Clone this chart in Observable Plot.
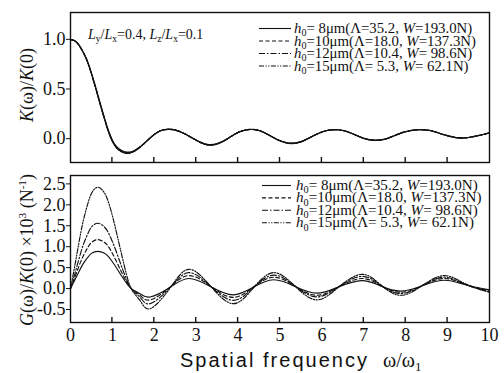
<!DOCTYPE html>
<html><head><meta charset="utf-8">
<script src="https://cdn.jsdelivr.net/npm/d3@7"></script>
<script src="https://cdn.jsdelivr.net/npm/@observablehq/plot@0.6"></script>
<style>
body{margin:0;background:#fff;}
#chart{width:504px;height:373px;position:relative;overflow:hidden;background:#fff;}
#chart svg{display:block;}
</style></head><body><div id="chart"></div>
<script>
// ---------- data ----------
const seriesNames = ["h0=8", "h0=10", "h0=12", "h0=15"];
const seriesDash = [null, "4,2.5", "6,2,1.5,2", "5,1.5,1.2,1.5,1.2,1.5"];
const legendRows = [
  [["h","i"],["0","sub"],["= 8μm(Λ=35.2, ",""],["W","i"],["=193.0N)",""]],
  [["h","i"],["0","sub"],["=10μm(Λ=18.0, ",""],["W","i"],["=137.3N)",""]],
  [["h","i"],["0","sub"],["=12μm(Λ=10.4, ",""],["W","i"],["= 98.6N)",""]],
  [["h","i"],["0","sub"],["=15μm(Λ= 5.3, ",""],["W","i"],["= 62.1N)",""]]
];
const xTicks = [0,1,2,3,4,5,6,7,8,9,10];
const innerTicks = [1,2,3,4,5,6,7,8,9];
const kTicks = [0, 0.5, 1.0];
const gTicks = [-0.5, 0, 0.5, 1.0, 1.5, 2.0, 2.5];

const kX = [0,0.1,0.2,0.3,0.4,0.5,0.6,0.7,0.8,0.9,1.0,1.1,1.2,1.3,1.4,1.5,1.6,1.7,1.8,1.9,2.0,2.1,2.2,2.35,2.5,2.7,2.9,3.1,3.3,3.5,3.7,3.9,4.1,4.3,4.5,4.7,4.9,5.1,5.3,5.5,5.7,5.9,6.1,6.3,6.5,6.7,6.9,7.1,7.3,7.5,7.7,7.9,8.1,8.35,8.6,8.8,9.0,9.2,9.35,9.5,9.7,9.85,10];
const kH8  = [1.0,0.985,0.945,0.875,0.785,0.66,0.52,0.37,0.225,0.09,-0.015,-0.08,-0.115,-0.132,-0.135,-0.125,-0.1,-0.068,-0.03,0.008,0.043,0.07,0.087,0.094,0.086,0.055,0.01,-0.035,-0.06,-0.05,-0.012,0.04,0.078,0.092,0.082,0.045,0.0,-0.033,-0.045,-0.03,0.008,0.05,0.08,0.09,0.082,0.055,0.02,-0.007,-0.015,-0.005,0.025,0.058,0.08,0.09,0.08,0.055,0.03,0.012,0.008,0.012,0.028,0.042,0.058];
const kH10 = [1.0,0.985,0.944,0.873,0.782,0.656,0.515,0.364,0.219,0.084,-0.021,-0.086,-0.121,-0.138,-0.14,-0.129,-0.103,-0.07,-0.031,0.007,0.042,0.07,0.087,0.094,0.086,0.054,0.009,-0.037,-0.062,-0.052,-0.013,0.04,0.078,0.092,0.082,0.044,-0.001,-0.035,-0.047,-0.031,0.008,0.05,0.08,0.09,0.082,0.055,0.019,-0.008,-0.016,-0.006,0.025,0.058,0.08,0.09,0.08,0.055,0.029,0.011,0.007,0.012,0.028,0.042,0.058];
const kH12 = [1.0,0.985,0.943,0.871,0.78,0.653,0.511,0.36,0.214,0.079,-0.025,-0.09,-0.125,-0.142,-0.143,-0.131,-0.105,-0.071,-0.032,0.007,0.042,0.07,0.087,0.095,0.087,0.054,0.008,-0.038,-0.064,-0.053,-0.013,0.04,0.079,0.093,0.082,0.044,-0.002,-0.036,-0.048,-0.032,0.008,0.05,0.08,0.09,0.082,0.055,0.019,-0.009,-0.017,-0.006,0.025,0.058,0.08,0.091,0.08,0.055,0.029,0.011,0.007,0.012,0.028,0.042,0.058];
const kH15 = [1.0,0.985,0.942,0.869,0.777,0.649,0.506,0.355,0.209,0.074,-0.03,-0.095,-0.13,-0.147,-0.147,-0.134,-0.107,-0.072,-0.033,0.006,0.042,0.07,0.088,0.096,0.088,0.054,0.007,-0.04,-0.066,-0.055,-0.014,0.04,0.079,0.094,0.083,0.044,-0.003,-0.038,-0.05,-0.033,0.007,0.05,0.08,0.091,0.083,0.055,0.018,-0.01,-0.018,-0.007,0.025,0.058,0.08,0.091,0.081,0.055,0.028,0.01,0.006,0.011,0.028,0.042,0.058];

const gX = [0,0.1,0.2,0.3,0.4,0.5,0.65,0.8,0.9,1.0,1.1,1.2,1.3,1.45,1.67,1.9,2.36,2.82,3.35,3.88,4.36,4.85,5.36,5.88,6.4,6.95,7.4,7.88,8.4,8.93,9.45,10];
const gH8  = [0,0.2,0.4,0.59,0.73,0.84,0.89,0.85,0.77,0.64,0.49,0.33,0.18,0,-0.13,-0.2,0.02,0.24,0.045,-0.15,0.03,0.21,0.05,-0.11,0.04,0.19,0.065,-0.06,0.07,0.2,0.085,-0.03];
const gH10 = [0,0.26,0.53,0.77,0.96,1.1,1.17,1.11,1.01,0.84,0.64,0.43,0.23,0,-0.17,-0.27,0.02,0.31,0.05,-0.21,0.03,0.27,0.055,-0.16,0.04,0.24,0.075,-0.09,0.075,0.24,0.09,-0.05];
const gH12 = [0,0.34,0.70,1.03,1.28,1.47,1.56,1.48,1.34,1.12,0.86,0.58,0.31,0,-0.22,-0.36,0.01,0.38,0.05,-0.28,0.02,0.32,0.06,-0.2,0.045,0.29,0.085,-0.12,0.075,0.27,0.09,-0.07];
const gH15 = [0,0.53,1.09,1.6,1.98,2.27,2.42,2.3,2.08,1.74,1.33,0.9,0.48,0,-0.3,-0.48,-0.01,0.46,0.05,-0.36,0.01,0.38,0.055,-0.27,0.035,0.34,0.09,-0.16,0.075,0.31,0.1,-0.09];

// ---------- build tables ----------
const kSeries = [kH8, kH10, kH12, kH15];
const gSeries = [gH8, gH10, gH12, gH15];
const kData = kSeries.flatMap((arr, i) => arr.map((v, j) => ({x: kX[j], y: v, s: i})));
const gData = gSeries.flatMap((arr, i) => arr.map((v, j) => ({x: gX[j], y: v, s: i})));

const SERIF = "'Liberation Serif', 'Times New Roman', serif";
const SANS = "'Liberation Sans', Arial, sans-serif";
const INK = "#111";
const fmt = d => d.toFixed(1);

function lines(data) {
  return seriesNames.map((n, i) => Plot.line(data.filter(d => d.s === i), {
    x: "x", y: "y", stroke: INK, strokeWidth: 1.15,
    strokeDasharray: seriesDash[i], curve: "natural"
  }));
}

const W = 504;
const topH = 170, botH = 203;
const topMargins = {marginLeft: 70, marginRight: 15, marginTop: 12, marginBottom: 8};
const botMargins = {marginLeft: 70, marginRight: 15, marginTop: 5, marginBottom: 51};
const kDomain = [-0.24, 1.27];
const gDomain = [-0.81, 2.70];

const topPlot = Plot.plot({
  width: W, height: topH, ...topMargins,
  style: {fontFamily: SERIF, fontSize: "18px", background: "transparent", color: INK, overflow: "visible"},
  x: {domain: [0, 10], axis: null},
  y: {domain: kDomain},
  marks: [
    Plot.axisY({ticks: kTicks, tickSize: 4, tickPadding: 1, tickFormat: fmt, label: null, fontSize: 18}),
    ...lines(kData),
    Plot.frame({stroke: INK, strokeWidth: 1.4})
  ]
});

const botPlot = Plot.plot({
  width: W, height: botH, ...botMargins,
  style: {fontFamily: SERIF, fontSize: "18px", background: "transparent", color: INK, overflow: "visible"},
  x: {domain: [0, 10]},
  y: {domain: gDomain},
  marks: [
    Plot.axisY({ticks: gTicks, tickSize: 4, tickPadding: 1, tickFormat: fmt, label: null, fontSize: 18}),
    Plot.axisX({ticks: xTicks, tickSize: 0, tickPadding: 6, tickFormat: d => String(d), label: null, fontSize: 18}),
    ...lines(gData),
    Plot.frame({stroke: INK, strokeWidth: 1.4})
  ]
});

const chart = document.getElementById("chart");
chart.appendChild(topPlot);
chart.appendChild(botPlot);

// inward x ticks, positioned through each plot's own x scale
function innerTickMarks(plot, bottomY) {
  const sx = plot.scale("x");
  const g = d3.select(plot).append("g").attr("stroke", INK).attr("stroke-width", 1.4);
  innerTicks.forEach(v => {
    const px = sx.apply(v);
    g.append("line").attr("x1", px).attr("x2", px).attr("y1", bottomY).attr("y2", bottomY - 5);
  });
}
innerTickMarks(topPlot, topH - topMargins.marginBottom);
innerTickMarks(botPlot, botH - botMargins.marginBottom);

// ---------- rich text helpers ----------
function fixParts(parts) {
  const out = [];
  for (let i = 0; i < parts.length; i++) {
    const p = parts[i];
    out.push(p);
    if (p[1] === "sub" && parts[i + 1]) { const n = parts[++i]; out.push([n[0], n[1] === "i" ? "i-after" : "after"]); }
    if (p[1] === "sup" && parts[i + 1]) { const n = parts[++i]; out.push([n[0], "aftersup"]); }
  }
  return out;
}
function drawRich(g, x, y, parts, size, opts = {}) {
  const t = g.append("text").attr("x", x).attr("y", y)
    .attr("font-family", opts.family || SERIF).attr("font-size", size)
    .attr("fill", INK).attr("text-anchor", opts.anchor || "start").style("white-space", "pre");
  if (opts.transform) t.attr("transform", opts.transform);
  fixParts(parts).forEach(([txt, kind]) => {
    const ts = t.append("tspan").text(txt);
    if (kind === "i" || kind === "i-after") ts.attr("font-style", "italic");
    if (kind === "sub") ts.attr("font-size", size * 0.68).attr("dy", size * 0.22);
    if (kind === "sup") ts.attr("font-size", size * 0.62).attr("dy", -size * 0.38);
    if (kind === "after" || kind === "i-after") ts.attr("dy", -size * 0.22);
    if (kind === "aftersup") ts.attr("dy", size * 0.38);
  });
  return t;
}

function legend(svg, y0, step, size, tx, lx1) {
  const g = d3.select(svg).append("g");
  legendRows.forEach((row, i) => {
    const y = y0 + i * step;
    g.append("line").attr("x1", lx1).attr("x2", 291).attr("y1", y - 4.5).attr("y2", y - 4.5)
      .attr("stroke", INK).attr("stroke-width", 1.1)
      .attr("stroke-dasharray", seriesDash[i]);
    drawRich(g, tx, y, row, size);
  });
}

// top panel annotations
const tsel = d3.select(topPlot);
drawRich(tsel, 88, 39, [["L","i"],["y","sub"],["/",""],["L","i"],["x","sub"],["=0.4, ",""],["L","i"],["z","sub"],["/",""],["L","i"],["x","sub"],["=0.1",""]], 14);
legend(topPlot, 33, 12.5, 14.8, 294, 259);
drawRich(tsel, 33, 85, [["K","i"],["(ω)/",""],["K","i"],["(0)",""]], 18, {anchor: "middle", transform: "rotate(-90,33,85)"});

// bottom panel annotations
const bsel = d3.select(botPlot);
legend(botPlot, 20, 12.4, 15.1, 296, 262);
drawRich(bsel, 33, 80, [["G","i"],["(ω)/",""],["K","i"],["(0) ×10",""],["3","sup"],[" (N",""],["-1","sup"],[")",""]], 18, {anchor: "middle", transform: "rotate(-90,33,80)"});
const xt = bsel.append("text").attr("x", 180).attr("y", 197).attr("fill", INK)
  .attr("text-anchor", "start").style("white-space", "pre");
xt.append("tspan").attr("font-family", SANS).attr("font-size", 20)
  .attr("textLength", 187).attr("lengthAdjust", "spacing").text("Spatial frequency");
xt.append("tspan").attr("font-family", SERIF).attr("font-size", 20).attr("dx", 14).text("ω/ω");
xt.append("tspan").attr("font-family", SERIF).attr("font-size", 13).attr("dy", 4).text("1");
</script></body></html>
